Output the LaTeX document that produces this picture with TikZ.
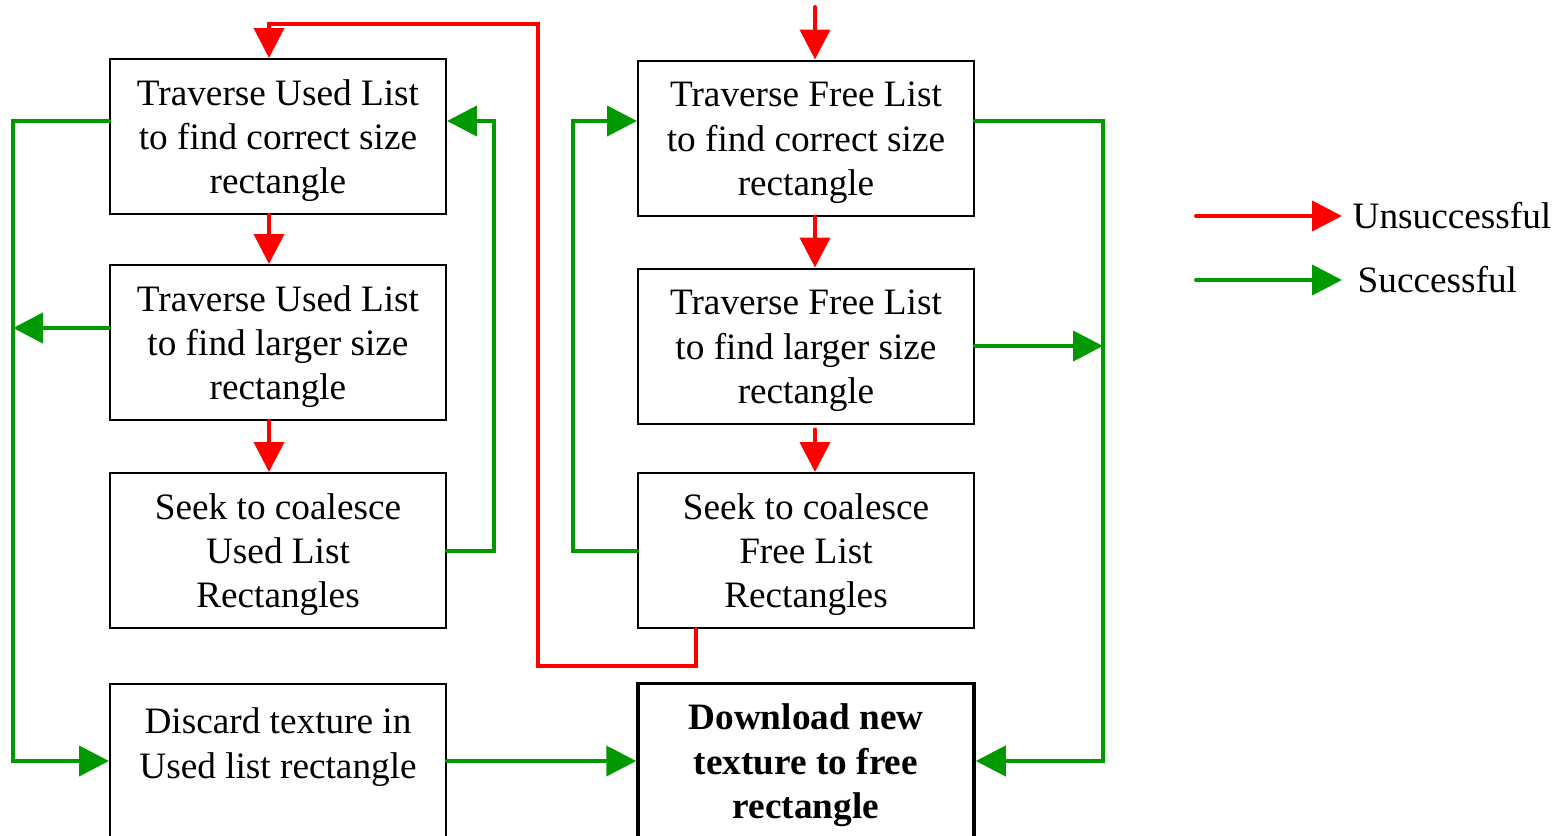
\documentclass[tikz,border=0pt]{standalone}
\usepackage{fontspec}
\setmainfont{Liberation Serif}
\usetikzlibrary{arrows.meta,positioning}

\definecolor{okgreen}{RGB}{0,153,0}

\begin{document}
\begin{tikzpicture}[x=0.1mm, y=-0.1mm,
		font=\fontsize{10.6}{12.6}\selectfont,
		box/.style={draw, line width=0.2mm, minimum width=33.6mm, minimum height=15.5mm, align=center, inner sep=0, text height=35pt},
		dlbox/.style={box, line width=0.35mm, font=\fontsize{10.6}{12.6}\selectfont\bfseries},
		fail/.style={red, line width=0.4mm, line cap=round},
		pass/.style={okgreen, line width=0.4mm, line cap=round},
		>={Triangle[length=3mm, width=3mm]}]
		% 1. Page size (pixels of the original)
		\useasboundingbox (0,0) rectangle (1565,836);

		% 2. The Boxes
		% Left column: Used list
		\node[box] (usedfit) at (278,136.5) {Traverse Used List\\to find correct size\\rectangle};
		\node[box] (usedbig) at (278,342.5) {Traverse Used List\\to find larger size\\rectangle};
		\node[box] (usedjoin) at (278,550.5) {Seek to coalesce\\Used List\\Rectangles};
		\node[box] (discard) at (278,761) {Discard texture in\\Used list rectangle\\~};
		% Right column: Free list
		\node[box] (freefit) at (806,138) {Traverse Free List\\to find correct size\\rectangle};
		\node[box] (freebig) at (806,346) {Traverse Free List\\to find larger size\\rectangle};
		\node[box] (freejoin) at (806,550.5) {Seek to coalesce\\Free List\\Rectangles};
		\node[dlbox] (download) at (806,761) {Download new\\texture to free\\rectangle};

		% 3. Red Arrows (unsuccessful)
		\coordinate (start) at (815,7);
		\draw[fail,->] (start) -- ([xshift=0.9mm]freefit.north);
		\draw[fail,->] ([xshift=0.9mm]freefit.south) -- ([xshift=0.9mm]freebig.north);
		\draw[fail,->] ([xshift=0.9mm, yshift=-0.5mm]freebig.south) -- ([xshift=0.9mm]freejoin.north);
		\draw[fail,->] ([xshift=-0.9mm]usedfit.south) -- ([xshift=-0.9mm]usedbig.north);
		\draw[fail,->] ([xshift=-0.9mm]usedbig.south) -- ([xshift=-0.9mm]usedjoin.north);
		% back from the free list to the used list
		\draw[fail,->] ([xshift=-11mm]freejoin.south) -- ++(0,37) -| (538,24) -| ([xshift=-0.9mm]usedfit.north);

		% 4. Green Arrows (successful)
		\draw[pass,->] ([yshift=1.55mm]usedfit.west) -- ++(-96,0) |- (discard.west);
		\draw[pass,->] ([yshift=1.45mm]usedbig.west) -- ++(-96,0);
		\draw[pass,->] (usedjoin.east) -- ++(47,0) |- ([yshift=1.55mm]usedfit.east);
		\draw[pass,->] (freejoin.west) -- ++(-64,0) |- ([yshift=1.7mm]freefit.west);
		\draw[pass,->] ([yshift=1.7mm]freefit.east) -- ++(128,0) |- (download.east);
		\draw[pass,->] (freebig.east) -- ++(128,0);
		\draw[pass,->] (discard.east) -- (download.west);

		% 5. Legend
		\coordinate (failkey) at (1196,216);
		\node[anchor=west, inner sep=1mm] (failtext) at (1342,216) {Unsuccessful};
		\draw[fail,->] (failkey) -- (failtext);
		\coordinate (passkey) at (1196,280);
		\node[anchor=west, inner sep=1.5mm] (passtext) at (1342,280) {Successful};
		\draw[pass,->] (passkey) -- (passtext);
	\end{tikzpicture}
\end{document}
